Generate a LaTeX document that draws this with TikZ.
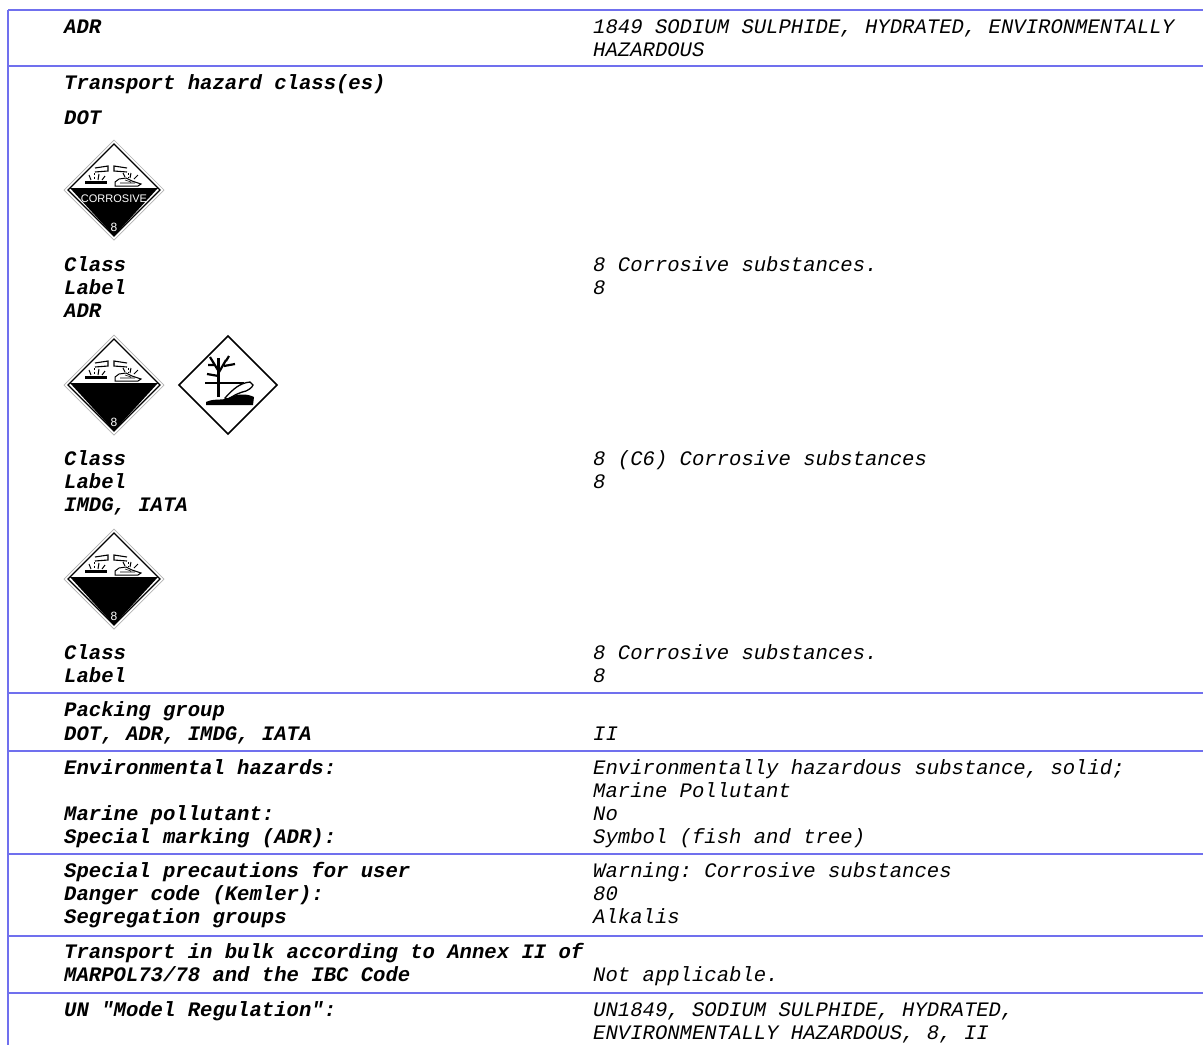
\documentclass[tikz,border=0pt]{standalone}
\usepackage{fontspec}
\setmainfont{Liberation Sans}
\setmonofont{Liberation Mono}
\usetikzlibrary{positioning}
\definecolor{rulecol}{RGB}{112,112,238}
\newcommand{\lblfont}{\fontsize{20.6}{23}\selectfont\ttfamily\bfseries\itshape}
\newcommand{\valfont}{\fontsize{20.6}{23}\selectfont\ttfamily\itshape}
\tikzset{
  lbl/.style={anchor=base west, inner sep=0pt, font=\lblfont},
  val/.style={anchor=base west, inner sep=0pt, font=\valfont},
  rowrule/.style={draw=rulecol, line width=2pt},
  corrosive/.pic={
    \fill[white] (0,-50) -- (50,0) -- (0,50) -- (-50,0) -- cycle;
    \draw[gray!60, line width=.7pt] (0,-50) -- (50,0) -- (0,50) -- (-50,0) -- cycle;
    \draw[line width=1.2pt] (0,-46) -- (46,0) -- (0,46) -- (-46,0) -- cycle;
    \fill (-44,-2) -- (44,-2) -- (0,46) -- cycle;
    % tubes and drops
    \draw[line width=1.1pt] (-19,-22) -- (-6,-24) -- (-6,-19) -- (-19,-18);
    \draw[line width=1.1pt] (13,-22) -- (0,-24) -- (0,-19) -- (13,-18);
    \draw[line width=1pt, dash pattern=on 2pt off 1.5pt] (-20,-17) -- (-20,-11);
    \draw[line width=1pt, dash pattern=on 2pt off 1.5pt] (14,-17) -- (14,-13);
    \draw[line width=1pt] (-23,-10) -- (-25,-15) (-16,-10) -- (-15,-16) (-12,-10) -- (-9,-14);
    \fill (-29,-9) rectangle (-7,-6);
    % hand
    \draw[line width=1pt, fill=white] (1,-4) -- (24,-4) -- (27,-6) -- (18,-9) -- (12,-12) -- (5,-11) -- (1,-8) -- cycle;
    \draw[line width=.6pt] (6,-7) -- (21,-7) (11,-10) -- (17,-8);
    \draw[line width=1pt] (11,-13) -- (9,-17) (16,-12) -- (17,-17) (20,-11) -- (24,-15);
    \node[white, font=\fontsize{12}{12}\selectfont] at (0,37) {8};
    \node[white, font=\fontsize{11}{12}\selectfont] at (0,8.5) {#1};
  },
  enviro/.pic={
    \fill[white] (0,-50) -- (50,0) -- (0,50) -- (-50,0) -- cycle;
    \draw[line width=1.5pt] (0,-49) -- (49,0) -- (0,49) -- (-49,0) -- cycle;
    % tree
    \draw[line width=3.8pt] (-9.5,12) -- (-9.5,-27);
    \draw[line width=2.2pt] (-9.5,-9) -- (-21,-11) (-9.5,-14) -- (-18,-28) (-9.5,-12) -- (-2,-25) (-4,-19) -- (7,-21) (-2,-24) -- (1,-29) (-14,-20) -- (-20,-20);
    \draw[line width=1.1pt] (-23,-2) -- (16,-2);
    % fish
    \draw[line width=1.3pt, fill=white] (-3,13) .. controls (5,4) and (12,-2) .. (22,-3) -- (25,0) .. controls (24,3) and (20,5) .. (18,6) .. controls (10,8) and (4,11) .. (0,15) -- cycle;
    % ground
    \fill (-22,20) -- (-22,17) .. controls (-14,13) and (-6,16) .. (0,13) .. controls (8,9) and (18,8) .. (26,12) -- (25,20) -- cycle;
  },
}
\begin{document}
\begin{tikzpicture}[x=1pt,y=-1pt]
\fill[white] (0,0) rectangle (1203,1045);
\useasboundingbox (0,0) rectangle (1203,1045);

% table rules
\draw[rowrule] (8,10) -- (8,1045);
\draw[rowrule] (8,10) -- (1203,10);
\draw[rowrule] (8,66) -- (1203,66);
\draw[rowrule] (8,693) -- (1203,693);
\draw[rowrule] (8,751) -- (1203,751);
\draw[rowrule] (8,854) -- (1203,854);
\draw[rowrule] (8,936) -- (1203,936);
\draw[rowrule] (8,993) -- (1203,993);

% ADR row
\node[lbl] (adr) at (64,33) {ADR};
\node[val] (adrA) at (593,33) {1849 SODIUM SULPHIDE, HYDRATED, ENVIRONMENTALLY};
\node[val] (adrB) at (593,56) {HAZARDOUS};

% transport hazard classes
\node[lbl] (thc) at (64,89) {Transport hazard class(es)};
\node[lbl] (dot) at (64,124) {DOT};
\pic at (114,190) {corrosive=CORROSIVE};
\node[lbl] (dotClass) at (64,271) {Class};
\node[val] (dotClassV) at (593,271) {8 Corrosive substances.};
\node[lbl] (dotLabel) at (64,294) {Label};
\node[val] (dotLabelV) at (593,294) {8};
\node[lbl] (adr2) at (64,317) {ADR};
\pic at (114,385) {corrosive={}};
\pic at (228,385) {enviro};
\node[lbl] (adrClass) at (64,465) {Class};
\node[val] (adrClassV) at (593,465) {8 (C6) Corrosive substances};
\node[lbl] (adrLabel) at (64,488) {Label};
\node[val] (adrLabelV) at (593,488) {8};
\node[lbl] (imdg) at (64,511) {IMDG, IATA};
\pic at (114,579) {corrosive={}};
\node[lbl] (imdgClass) at (64,659) {Class};
\node[val] (imdgClassV) at (593,659) {8 Corrosive substances.};
\node[lbl] (imdgLabel) at (64,682) {Label};
\node[val] (imdgLabelV) at (593,682) {8};

% packing group
\node[lbl] (pg) at (64,716) {Packing group};
\node[lbl] (pgAll) at (64,740) {DOT, ADR, IMDG, IATA};
\node[val] (pgV) at (593,740) {II};

% environmental hazards
\node[lbl] (env) at (64,774) {Environmental hazards:};
\node[val] (envA) at (593,774) {Environmentally hazardous substance, solid;};
\node[val] (envB) at (593,797) {Marine Pollutant};
\node[lbl] (mp) at (64,820) {Marine pollutant:};
\node[val] (mpV) at (593,820) {No};
\node[lbl] (sm) at (64,843) {Special marking (ADR):};
\node[val] (smV) at (593,843) {Symbol (fish and tree)};

% special precautions
\node[lbl] (sp) at (64,877) {Special precautions for user};
\node[val] (spV) at (593,877) {Warning: Corrosive substances};
\node[lbl] (dc) at (64,900) {Danger code (Kemler):};
\node[val] (dcV) at (593,900) {80};
\node[lbl] (sg) at (64,923) {Segregation groups};
\node[val] (sgV) at (593,923) {Alkalis};

% bulk transport
\node[lbl] (bulkA) at (64,958) {Transport in bulk according to Annex II of};
\node[lbl] (bulkB) at (64,981) {MARPOL73/78 and the IBC Code};
\node[val] (bulkV) at (593,981) {Not applicable.};

% UN model regulation
\node[lbl] (un) at (64,1016) {UN "Model Regulation":};
\node[val] (unA) at (593,1016) {UN1849, SODIUM SULPHIDE, HYDRATED,};
\node[val] (unB) at (593,1039) {ENVIRONMENTALLY HAZARDOUS, 8, II};
\end{tikzpicture}
\end{document}
